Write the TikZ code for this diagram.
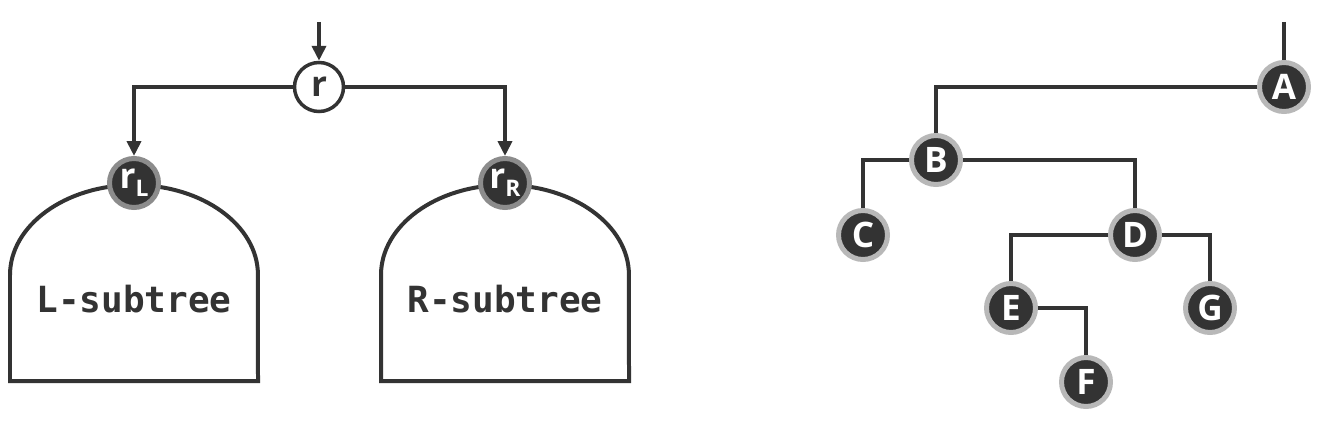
\documentclass[tikz,border=0pt]{standalone}
\usepackage{fontspec}
\setmainfont{Open Sans}
\newfontfamily\codefont{DejaVu Sans Mono}
\usetikzlibrary{arrows.meta,positioning}
\definecolor{ink}{HTML}{333333}
\tikzset{
  edge/.style={ink, line width=0.08cm},
  arr/.style={edge, -{Triangle[length=0.3cm,width=0.28cm]}},
  root/.style={circle, draw=ink, fill=white, line width=0.07cm, minimum size=0.98cm, inner sep=0pt,
    text=ink, font=\fontsize{20}{20}\selectfont\bfseries},
  sub/.style={circle, draw=black!45, fill=ink, line width=0.1cm, minimum size=0.98cm, inner sep=0pt,
    text=white, font=\fontsize{20}{20}\selectfont\bfseries},
  tnode/.style={sub, draw=black!28},
  lbl/.style={text=ink, font=\codefont\fontsize{20.5}{20.5}\selectfont\bfseries}
}
\begin{document}
\begin{tikzpicture}[x=0.02cm, y=0.02cm]
 \useasboundingbox (0,0) rectangle (1322,437);
 % left: root with two subtrees
 \draw[edge] (10,56) -- (10,162) arc[start angle=180, end angle=0, x radius=2.48cm, y radius=1.8cm] -- (258,56) -- cycle;
 \draw[edge] (381,56) -- (381,162) arc[start angle=180, end angle=0, x radius=2.48cm, y radius=1.8cm] -- (629,56) -- cycle;
 \node[lbl] (ltxt) at (134,138) {L-subtree};
 \node[lbl] (rtxt) at (505,138) {R-subtree};
 \coordinate (in) at (319,415);
 \node[root] (r) at (319,350) {r};
 \node[sub] (rL) at (134,254) {r\raisebox{-0.4ex}{\fontsize{13}{13}\selectfont L}};
 \node[sub] (rR) at (505,254) {r\raisebox{-0.4ex}{\fontsize{13}{13}\selectfont R}};
 \draw[arr] (in) -- (r);
 \draw[arr] (r) -| (rL);
 \draw[arr] (r) -| (rR);

 % right: example tree
 \coordinate (top) at (1284,415);
 \node[tnode] (A) at (1284,350) {A};
 \node[tnode] (B) at (936,277) {B};
 \node[tnode] (C) at (863,202) {C};
 \node[tnode] (D) at (1135,202) {D};
 \node[tnode] (E) at (1011,129) {E};
 \node[tnode] (G) at (1210,129) {G};
 \node[tnode] (F) at (1086,55) {F};
 \draw[edge] (top) -- (A);
 \draw[edge] (A) -| (B);
 \draw[edge] (B) -| (C);
 \draw[edge] (B) -| (D);
 \draw[edge] (D) -| (E);
 \draw[edge] (D) -| (G);
 \draw[edge] (E) -| (F);
\end{tikzpicture}
\end{document}
